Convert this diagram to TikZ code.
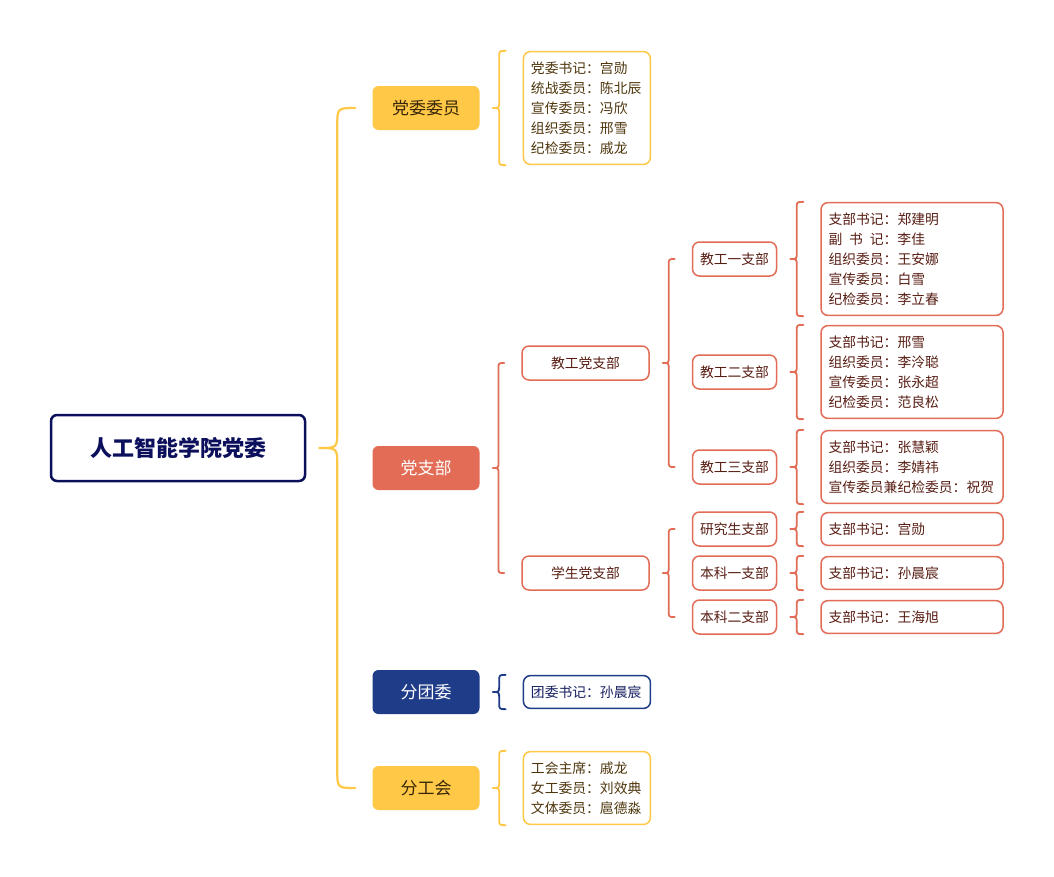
\documentclass[tikz,border=0pt]{standalone}
\usepackage{fontspec}
\setmainfont{Noto Sans CJK SC}
\usetikzlibrary{positioning,calc}
\definecolor{rootblue}{RGB}{12,16,92}
\definecolor{dwyellow}{RGB}{255,200,70}
\definecolor{dzbred}{RGB}{226,108,86}
\definecolor{twblue}{RGB}{31,60,136}
\definecolor{ytext}{RGB}{78,54,12}
\definecolor{rtext}{RGB}{88,30,20}
\definecolor{btext}{RGB}{22,32,96}
\tikzset{
  root/.style ={draw=rootblue, line width=2.5pt, rounded corners=6pt,
                minimum width=254pt, minimum height=66pt, text=rootblue,
                font=\fontsize{22}{26}\selectfont\bfseries},
  lvone/.style ={fill=#1, rounded corners=6pt, minimum width=107pt,
                minimum height=44pt, font=\fontsize{17}{20}\selectfont},
  branch/.style ={draw=dzbred, line width=1.5pt, fill=white, text=rtext,
                rounded corners=7pt, minimum height=34pt,
                font=\fontsize{13.8}{20}\selectfont},
  member/.style ={draw=#1, line width=1.5pt, rounded corners=7pt,
                inner xsep=7.5pt, inner ysep=10pt, text width=167pt,
                align=left, font=\fontsize{13.8}{20}\selectfont},
  narrow/.style ={text width=112pt},
  brace/.style ={draw=#1, line width=1.8pt, line join=round, line cap=round},
}
% curly bracket from a parent to the span of its children
\newcommand\brc[4]{%
  \draw[#1] let \p1=($(#2.east)+(13pt,0)$), \p2=($(#3)+(-17pt,0)$),
                \p3=($(#4)+(-17pt,0)$), \p4=($(\p1)!.5!(\p2)$) in
    (\p2) .. controls (\x4,\y2) .. (\x4,{\y2-(\x2-\x4)})
    -- (\x4,{\y1+(\x4-\x1)}) .. controls (\x4,\y1) .. (\p1)
    .. controls (\x4,\y1) .. (\x4,{\y1-(\x4-\x1)})
    -- (\x4,{\y3+(\x2-\x4)}) .. controls (\x4,\y3) .. (\p3);
}
\newcommand\gapsp{\hspace{0.5em}}
\begin{document}
\begin{tikzpicture}[x=1pt,y=-1pt]
\useasboundingbox[fill=white] (0,0) rectangle (1054,876);
\node[root] (root) at (178,448) {人工智能学院党委};
% first level
\node[lvone=dwyellow, text=ytext!70!black] (dw) at (426,108) {党委委员};
\node[lvone=dzbred, text=white] (dzb) at (426,468) {党支部};
\node[lvone=twblue, text=white] (ftw) at (426,692) {分团委};
\node[lvone=dwyellow, text=ytext!70!black] (fgh) at (426,788) {分工会};
\brc{brace=dwyellow, line width=2.2pt}{root}{dw.west}{fgh.west}
% party committee members
\node[member=dwyellow, narrow, text=ytext, right=43pt of dw] (dwm)
  {党委书记：宫勋\\统战委员：陈北辰\\宣传委员：冯欣\\组织委员：邢雪\\纪检委员：戚龙};
\brc{brace=dwyellow}{dw}{dwm.north west}{dwm.south west}
% branches
\node[branch, minimum width=127pt] (jg) at (585.5,363) {教工党支部};
\node[branch, minimum width=127pt] (xs) at (585.5,573) {学生党支部};
\brc{brace=dzbred}{dzb}{jg.west}{xs.west}
\node[branch, minimum width=84pt] (j1) at (734.5,259) {教工一支部};
\node[branch, minimum width=84pt] (j2) at (734.5,372) {教工二支部};
\node[branch, minimum width=84pt] (j3) at (734.5,467) {教工三支部};
\brc{brace=dzbred}{jg}{j1.west}{j3.west}
\node[branch, minimum width=84pt] (yjs) at (734.5,529) {研究生支部};
\node[branch, minimum width=84pt] (bk1) at (734.5,573) {本科一支部};
\node[branch, minimum width=84pt] (bk2) at (734.5,617) {本科二支部};
\brc{brace=dzbred}{xs}{yjs.west}{bk2.west}
% branch members
\node[member=dzbred, text=rtext, right=43pt of j1] (j1m)
  {支部书记：郑建明\\副\gapsp 书\gapsp 记：李佳\\组织委员：王安娜\\宣传委员：白雪\\纪检委员：李立春};
\node[member=dzbred, text=rtext, right=43pt of j2] (j2m)
  {支部书记：邢雪\\组织委员：李泠聪\\宣传委员：张永超\\纪检委员：范良松};
\node[member=dzbred, text=rtext, right=43pt of j3] (j3m)
  {支部书记：张慧颖\\组织委员：李婧祎\\宣传委员兼纪检委员：祝贺};
\node[member=dzbred, text=rtext, right=43pt of yjs] (yjsm) {支部书记：宫勋};
\node[member=dzbred, text=rtext, right=43pt of bk1] (bk1m) {支部书记：孙晨宸};
\node[member=dzbred, text=rtext, right=43pt of bk2] (bk2m) {支部书记：王海旭};
\foreach \b in {j1,j2,j3,yjs,bk1,bk2}
  \brc{brace=dzbred}{\b}{\b m.north west}{\b m.south west};
% youth league and union
\node[member=twblue, narrow, text=btext, right=43pt of ftw] (ftwm) {团委书记：孙晨宸};
\brc{brace=twblue}{ftw}{ftwm.north west}{ftwm.south west}
\node[member=dwyellow, narrow, text=ytext, right=43pt of fgh] (fghm)
  {工会主席：戚龙\\女工委员：刘效典\\文体委员：扈德淼};
\brc{brace=dwyellow}{fgh}{fghm.north west}{fghm.south west}
\end{tikzpicture}
\end{document}
